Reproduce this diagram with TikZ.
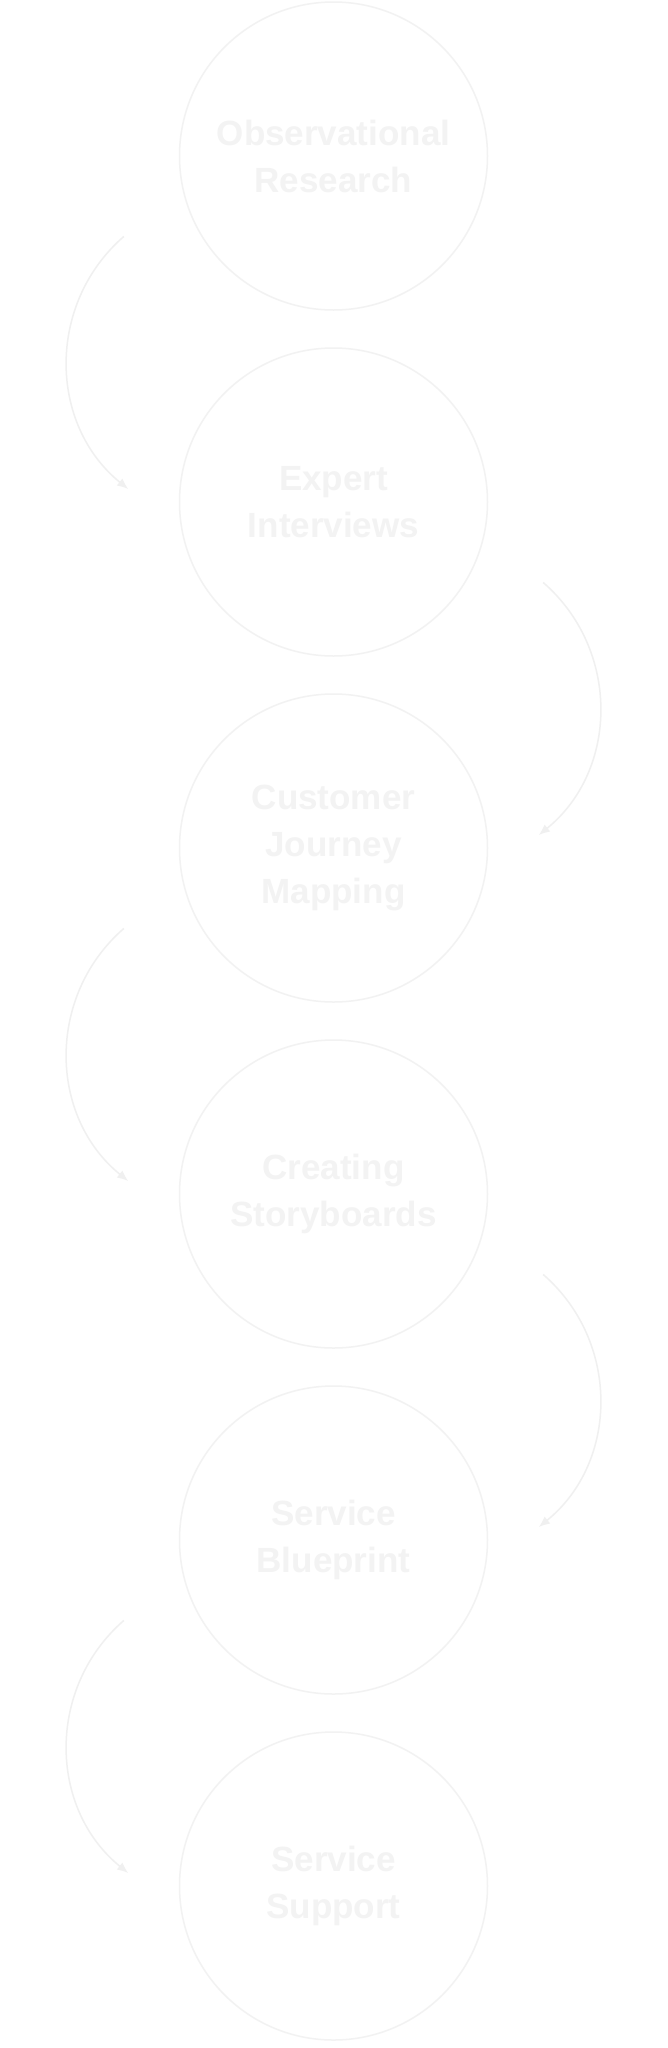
\documentclass[tikz,border=0pt]{standalone}
\usepackage{fontspec}
\setmainfont{Liberation Sans}
\usetikzlibrary{arrows.meta}
\definecolor{ringcol}{HTML}{F2F2F2}
\definecolor{txtcol}{HTML}{F3F3F3}
\definecolor{arccol}{HTML}{F0F0F0}
\tikzset{
  stage/.style={circle, draw=ringcol, line width=1.5pt, fill=white, minimum size=308pt, inner sep=0pt,
    text=txtcol, align=center, font=\fontsize{35}{47}\selectfont\bfseries},
  flow/.style={draw=arccol, line width=1.5pt, -{Latex[length=11pt,width=9pt]}}
}
\begin{document}
\begin{tikzpicture}[x=1pt,y=-1pt]
\useasboundingbox[fill=white] (0,0) rectangle (667,2048);
\node[stage] (n1) at (333.5,156) {Observational\\Research};
\node[stage] (n2) at (333.5,502) {Expert\\Interviews};
\node[stage] (n3) at (333.5,848) {Customer\\Journey\\Mapping};
\node[stage] (n4) at (333.5,1194) {Creating\\Storyboards};
\node[stage] (n5) at (333.5,1540) {Service\\Blueprint};
\node[stage] (n6) at (333.5,1886) {Service\\Support};
% left arcs
\coordinate (a12s) at (123.8,236.5);
\coordinate (a12e) at (128.2,489);
\draw[flow] (a12s) .. controls (46.4,303.8) and (48.5,424.5) .. (a12e);
\coordinate (a34s) at (123.8,928.5);
\coordinate (a34e) at (128.2,1181);
\draw[flow] (a34s) .. controls (46.4,995.8) and (48.5,1116.5) .. (a34e);
\coordinate (a56s) at (123.8,1620.5);
\coordinate (a56e) at (128.2,1873);
\draw[flow] (a56s) .. controls (46.4,1687.8) and (48.5,1808.5) .. (a56e);
% right arcs
\coordinate (a23s) at (543.2,582.5);
\coordinate (a23e) at (538.8,835);
\draw[flow] (a23s) .. controls (620.6,649.8) and (618.5,770.5) .. (a23e);
\coordinate (a45s) at (543.2,1274.5);
\coordinate (a45e) at (538.8,1527);
\draw[flow] (a45s) .. controls (620.6,1341.8) and (618.5,1462.5) .. (a45e);
\end{tikzpicture}
\end{document}
